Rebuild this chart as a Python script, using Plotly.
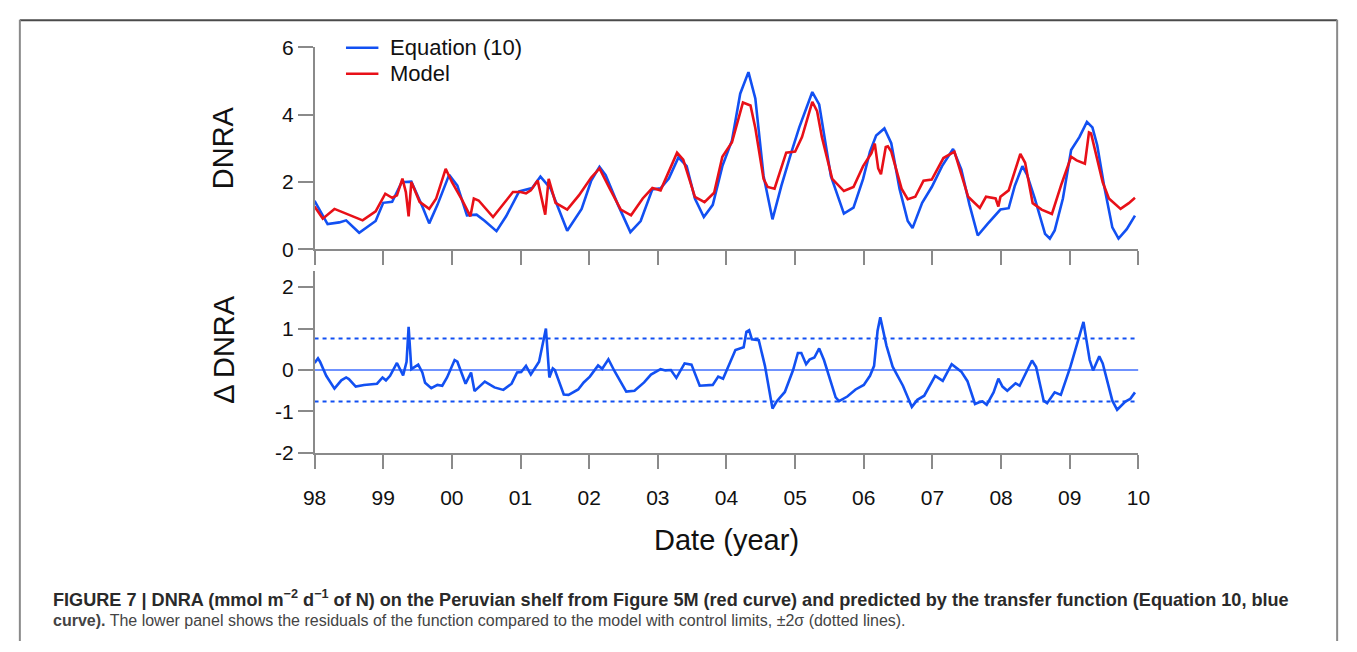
import plotly.graph_objects as go

W, H = 1357, 652

# ---------------- data (years since Jan 1998) ----------------
eq_t = [0, 0.19, 0.36, 0.46, 0.65, 0.89, 1.0, 1.13, 1.27, 1.41, 1.56, 1.67, 1.79, 1.96, 2.08, 2.22,
        2.36, 2.48, 2.65, 2.79, 2.98, 3.17, 3.29, 3.44, 3.68, 3.89, 4.03, 4.15, 4.24, 4.42, 4.60,
        4.75, 4.92, 5.04, 5.16, 5.30, 5.42, 5.54, 5.67, 5.80, 5.94, 6.08, 6.20, 6.32, 6.42, 6.54,
        6.67, 6.80, 6.94, 7.06, 7.25, 7.35, 7.52, 7.71, 7.85, 7.99, 8.09, 8.18, 8.30, 8.40, 8.52,
        8.64, 8.71, 8.85, 8.99, 9.14, 9.30, 9.42, 9.54, 9.66, 9.80, 9.99, 10.11, 10.20, 10.31,
        10.38, 10.49, 10.64, 10.71, 10.78, 10.90, 11.02, 11.14, 11.25, 11.33, 11.40, 11.50,
        11.62, 11.71, 11.83, 11.95]
eq_v = [1.44, 0.75, 0.80, 0.86, 0.49, 0.84, 1.38, 1.41, 1.99, 2.01, 1.32, 0.77, 1.32, 2.21, 1.89, 1.01,
        1.03, 0.84, 0.54, 0.98, 1.72, 1.82, 2.16, 1.80, 0.55, 1.20, 2.04, 2.45, 2.20, 1.32, 0.51,
        0.84, 1.78, 1.81, 2.10, 2.73, 2.47, 1.51, 0.96, 1.32, 2.47, 3.23, 4.62, 5.26, 4.48, 2.18,
        0.89, 1.89, 2.85, 3.62, 4.67, 4.30, 2.18, 1.06, 1.24, 2.09, 2.90, 3.38, 3.59, 3.15, 1.80,
        0.84, 0.63, 1.38, 1.85, 2.47, 2.98, 2.37, 1.32, 0.41, 0.75, 1.18, 1.22, 1.89, 2.47,
        2.20, 1.51, 0.46, 0.32, 0.56, 1.51, 2.95, 3.33, 3.78, 3.62, 3.09, 1.89,
        0.65, 0.32, 0.60, 1.00]

model_t = [0, 0.12, 0.29, 0.46, 0.70, 0.89, 1.03, 1.13, 1.20, 1.28, 1.33, 1.37, 1.41, 1.53, 1.67, 1.77,
           1.91, 2.0, 2.15, 2.27, 2.32, 2.39, 2.60, 2.89, 3.0, 3.08, 3.15, 3.25, 3.36, 3.41, 3.51,
           3.68, 3.85, 4.03, 4.15, 4.30, 4.46, 4.61, 4.78, 4.92, 5.04, 5.28, 5.37, 5.54, 5.68, 5.82,
           5.94, 6.08, 6.24, 6.35, 6.42, 6.54, 6.60, 6.70, 6.87, 7.0, 7.10, 7.25, 7.32, 7.39, 7.54,
           7.71, 7.85, 7.99, 8.11, 8.16, 8.21, 8.25, 8.32, 8.35, 8.40, 8.55, 8.64, 8.75, 8.87, 8.99,
           9.16, 9.32, 9.52, 9.69, 9.78, 9.92, 9.96, 9.99, 10.11, 10.28, 10.35, 10.46, 10.59, 10.74,
           10.88, 11.02, 11.10, 11.22, 11.28, 11.31, 11.48, 11.57, 11.74, 11.86, 11.95]
model_v = [1.27, 0.91, 1.20, 1.05, 0.86, 1.13, 1.65, 1.53, 1.60, 2.10, 1.70, 0.98, 2.00, 1.41, 1.20, 1.50,
           2.39, 2.00, 1.46, 0.98, 1.51, 1.45, 0.96, 1.70, 1.70, 1.66, 1.75, 2.04, 1.03, 2.09, 1.38,
           1.18, 1.60, 2.13, 2.40, 1.80, 1.18, 1.01, 1.51, 1.82, 1.75, 2.87, 2.66, 1.56, 1.40, 1.68,
           2.75, 3.18, 4.36, 4.27, 3.60, 2.09, 1.85, 1.80, 2.87, 2.90, 3.33, 4.38, 4.10, 3.33, 2.09,
           1.73, 1.85, 2.47, 2.85, 3.14, 2.40, 2.23, 3.04, 3.06, 2.90, 1.80, 1.49, 1.56, 2.04, 2.07,
           2.71, 2.90, 1.56, 1.23, 1.56, 1.51, 1.27, 1.56, 1.75, 2.83, 2.57, 1.37, 1.18, 1.05,
           1.94, 2.75, 2.64, 2.54, 3.47, 3.44, 1.99, 1.51, 1.20, 1.37, 1.53]

res_t = [0, 0.05, 0.08, 0.17, 0.29, 0.39, 0.46, 0.50, 0.60, 0.72, 0.91, 0.99, 1.04, 1.10, 1.20, 1.29,
         1.34, 1.37, 1.41, 1.51, 1.57, 1.61, 1.70, 1.79, 1.86, 1.93, 2.04, 2.08, 2.20, 2.28, 2.33,
         2.48, 2.62, 2.75, 2.87, 2.95, 3.01, 3.08, 3.15, 3.27, 3.37, 3.42, 3.47, 3.50, 3.63, 3.70,
         3.84, 3.92, 4.01, 4.13, 4.19, 4.28, 4.37, 4.54, 4.66, 4.80, 4.90, 5.04, 5.11, 5.19, 5.27,
         5.39, 5.49, 5.61, 5.80, 5.88, 5.95, 6.13, 6.25, 6.29, 6.33, 6.37, 6.47, 6.56, 6.67, 6.73,
         6.85, 6.97, 7.04, 7.09, 7.16, 7.21, 7.28, 7.35, 7.42, 7.59, 7.64, 7.76, 7.88, 8.00, 8.09,
         8.15, 8.20, 8.24, 8.33, 8.42, 8.57, 8.70, 8.78, 8.88, 9.04, 9.15, 9.28, 9.42, 9.51, 9.62,
         9.68, 9.73, 9.79, 9.89, 9.96, 10.02, 10.09, 10.21, 10.27, 10.33, 10.45, 10.51, 10.62,
         10.67, 10.78, 10.87, 11.01, 11.20, 11.29, 11.34, 11.43, 11.48, 11.62, 11.69, 11.81, 11.88,
         11.95]
res_v = [0.17, 0.28, 0.20, -0.14, -0.45, -0.25, -0.18, -0.22, -0.40, -0.36, -0.33, -0.18, -0.25, -0.14, 0.17, -0.13,
         0.20, 1.04, 0.02, 0.13, -0.06, -0.31, -0.44, -0.36, -0.38, -0.18, 0.24, 0.20, -0.33, -0.06, -0.51,
         -0.28, -0.42, -0.48, -0.33, -0.06, -0.05, 0.10, -0.11, 0.20, 1.00, -0.18, 0.04, 0.00, -0.59, -0.60,
         -0.47, -0.30, -0.16, 0.11, 0.03, 0.26, -0.03, -0.52, -0.50, -0.30, -0.11, 0.02, -0.01, 0.00, -0.19,
         0.16, 0.13, -0.38, -0.36, -0.16, -0.21, 0.48, 0.55, 0.92, 0.96, 0.74, 0.72, 0.10, -0.93, -0.76,
         -0.53, 0.00, 0.41, 0.41, 0.14, 0.25, 0.30, 0.52, 0.24, -0.66, -0.75, -0.64, -0.47, -0.36, -0.14,
         0.10, 0.94, 1.27, 0.59, 0.08, -0.38, -0.89, -0.72, -0.62, -0.14, -0.26, 0.14, -0.04, -0.27, -0.82,
         -0.78, -0.76, -0.84, -0.54, -0.21, -0.40, -0.50, -0.32, -0.38, -0.18, 0.23, 0.07, -0.74,
         -0.80, -0.54, -0.60, 0.08, 1.16, 0.24, -0.01, 0.33, 0.16, -0.74, -0.96, -0.76, -0.70,
         -0.54]

control_limit = 0.76
year_start, year_end = 1998, 2010
tick_years = list(range(1998, 2011))
tick_text = ["98", "99", "00", "01", "02", "03", "04", "05", "06", "07", "08", "09", "10"]
series_names = ["Equation (10)", "Model"]

# ---------------- styling ----------------
BLUE = "#1250F2"
RED = "#E81018"
ZERO_BLUE = "#3F6EFF"
AX = "#8a8a8a"
FONT = "Liberation Sans, Arial, sans-serif"


def px_x(p):
    return p / W


def px_y(p):
    return 1 - p / H


eq_x = [year_start + t for t in eq_t]
model_x = [year_start + t for t in model_t]
res_x = [year_start + t for t in res_t]

fig = go.Figure()
fig.add_trace(go.Scatter(x=eq_x, y=eq_v, mode="lines", name=series_names[0], showlegend=False,
                         line=dict(color=BLUE, width=2.6), xaxis="x", yaxis="y"))
fig.add_trace(go.Scatter(x=model_x, y=model_v, mode="lines", name=series_names[1], showlegend=False,
                         line=dict(color=RED, width=2.6), xaxis="x", yaxis="y"))
# residual panel
fig.add_trace(go.Scatter(x=[year_start, year_end], y=[0, 0], mode="lines", showlegend=False,
                         line=dict(color=ZERO_BLUE, width=1.6), xaxis="x2", yaxis="y2"))
fig.add_trace(go.Scatter(x=[year_start, year_end], y=[control_limit, control_limit], mode="lines",
                         showlegend=False, line=dict(color=BLUE, width=2.2, dash="4px,4px"),
                         xaxis="x2", yaxis="y2"))
fig.add_trace(go.Scatter(x=[year_start, year_end], y=[-control_limit, -control_limit], mode="lines",
                         showlegend=False, line=dict(color=BLUE, width=2.2, dash="4px,4px"),
                         xaxis="x2", yaxis="y2"))
fig.add_trace(go.Scatter(x=res_x, y=res_v, mode="lines", showlegend=False,
                         line=dict(color=BLUE, width=2.6), xaxis="x2", yaxis="y2"))

xdom = [px_x(308), px_x(1146.7)]
common_x = dict(domain=xdom, range=[year_start, year_end], tickvals=tick_years, ticktext=tick_text,
                showline=True, linecolor=AX, linewidth=1.5, ticks="outside", ticklen=14,
                tickcolor=AX, tickwidth=1.5, showgrid=False, zeroline=False,
                tickfont=dict(family=FONT, size=21, color="#111"))
common_y = dict(showline=True, linecolor=AX, linewidth=1.5, ticks="outside", ticklen=15,
                tickcolor=AX, tickwidth=1.5, showgrid=False, zeroline=False,
                tickfont=dict(family=FONT, size=21, color="#111"))

fig.update_layout(
    width=W, height=H,
    margin=dict(l=0, r=0, t=0, b=0),
    paper_bgcolor="white", plot_bgcolor="white",
    font=dict(family=FONT, color="#111"),
    xaxis=dict(common_x, anchor="y", showticklabels=False),
    yaxis=dict(common_y, anchor="x", domain=[px_y(246), px_y(36.5)], range=[0, 6],
               tickvals=[0, 2, 4, 6]),
    xaxis2=dict(common_x, anchor="y2", ticklabelstandoff=11),
    yaxis2=dict(common_y, anchor="x2", domain=[px_y(457), px_y(268)], range=[-2, 2.4],
                tickvals=[-2, -1, 0, 1, 2], ticktext=["-2", "-1", "0", "1", "2"]),
    showlegend=False,
)

annotations = [
    dict(text="DNRA", x=px_x(215), y=px_y(141), textangle=-90,
         font=dict(family=FONT, size=29, color="#111")),
    dict(text="Δ DNRA", x=px_x(215), y=px_y(350), textangle=-90,
         font=dict(family=FONT, size=29, color="#111")),
    dict(text="Date (year)", x=px_x(727), y=px_y(547),
         font=dict(family=FONT, size=29, color="#111")),
    # legend labels
    dict(text=series_names[0], x=px_x(383), y=px_y(37), xanchor="left",
         font=dict(family=FONT, size=22, color="#111")),
    dict(text=series_names[1], x=px_x(383), y=px_y(64), xanchor="left",
         font=dict(family=FONT, size=22, color="#111")),
    dict(text="<b>FIGURE 7 | DNRA (mmol m<sup>−2</sup> d<sup>−1</sup> of N) on the Peruvian shelf from "
              "Figure 5M (red curve) and predicted by the transfer function (Equation 10, blue</b>",
         x=px_x(40), y=px_y(608), xanchor="left",
         font=dict(family=FONT, size=18.1, color="#2a2a2a")),
    dict(text="<b>curve).</b> The lower panel shows the residuals of the function compared to the "
              "model with control limits, ±2σ (dotted lines).",
         x=px_x(40), y=px_y(631), xanchor="left",
         font=dict(family=FONT, size=16, color="#444")),
]
for a in annotations:
    a.setdefault("xref", "paper")
    a.setdefault("yref", "paper")
    a.setdefault("showarrow", False)
    a.setdefault("yanchor", "middle")
    a.setdefault("xanchor", "center")
fig.update_layout(annotations=annotations)

shapes = [
    # legend samples
    dict(type="line", xref="paper", yref="paper", x0=px_x(340), x1=px_x(373), y0=px_y(37), y1=px_y(37),
         line=dict(color=BLUE, width=2.6)),
    dict(type="line", xref="paper", yref="paper", x0=px_x(340), x1=px_x(373), y0=px_y(64), y1=px_y(64),
         line=dict(color=RED, width=2.6)),
    # figure frame
    dict(type="line", xref="paper", yref="paper", x0=px_x(8), x1=px_x(1349), y0=px_y(8.5), y1=px_y(8.5),
         line=dict(color="#4a4a4a", width=2)),
    dict(type="line", xref="paper", yref="paper", x0=px_x(8), x1=px_x(8), y0=px_y(8), y1=0,
         line=dict(color="#8a8a8a", width=2)),
    dict(type="line", xref="paper", yref="paper", x0=px_x(1349), x1=px_x(1349), y0=px_y(8), y1=0,
         line=dict(color="#8a8a8a", width=2)),
]
fig.update_layout(shapes=shapes)

fig.write_html("out.html", post_script="document.body.style.margin='0px';document.body.style.overflow='hidden';")
